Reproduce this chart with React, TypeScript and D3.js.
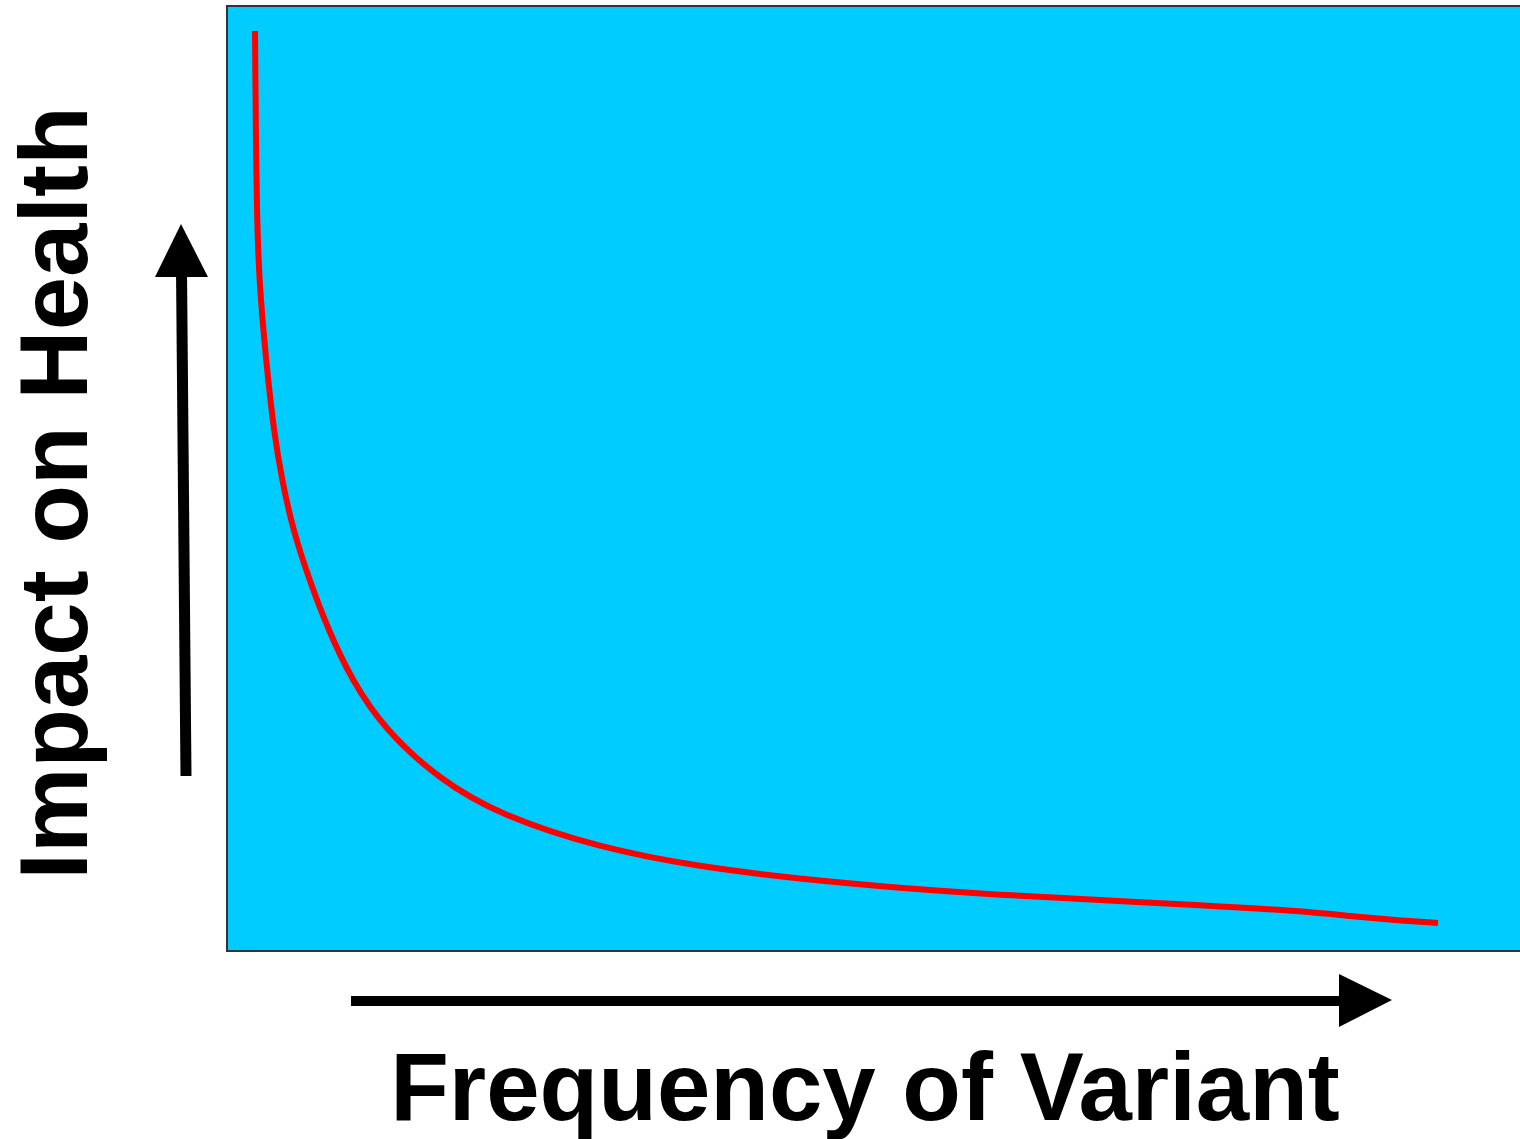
import React from 'react';
import * as d3 from 'd3';

const width = 1520;
const height = 1139;

// curve: frequency (0..100) vs impact (0..100)
const frequency = [0, 0.14, 0.48, 0.99, 1.61, 2.28, 3.21, 4.59, 6.2, 8.17, 10.99, 15.64, 20.71, 29.16, 37.62, 46.07, 54.52, 62.98, 71.43, 79.88, 88.33, 92.56, 96.79, 100];
const impact = [100, 78.04, 70.76, 63.48, 56.3, 51.2, 45.76, 40.33, 34.89, 29.46, 24.02, 18.59, 14.78, 11.2, 9.13, 7.83, 6.85, 6.09, 5.54, 5.0, 4.35, 3.8, 3.32, 3.04];

const xLabel = 'Frequency of Variant';
const yLabel = 'Impact on Health';

const font = '"Liberation Sans", Arial, sans-serif';

export default function App() {
  const x = d3.scaleLinear().domain([0, 100]).range([255, 1438]);
  const y = d3.scaleLinear().domain([0, 100]).range([951, 31]);

  const line = d3
    .line<number>()
    .x((d, i) => x(frequency[i]))
    .y(d => y(d))
    .curve(d3.curveBasis);

  return (
    <svg width={width} height={height} style={{ display: 'block', position: 'absolute', left: 0, top: 0 }}>
      <rect x={227} y={6} width={1320} height={945} fill="#00ccff" stroke="#333" strokeWidth={2} />
      <path d={line(impact) || ''} fill="none" stroke="#ff0000" strokeWidth={6} />

      {/* up arrow */}
      <line x1={186} y1={776} x2={181.5} y2={270} stroke="#000" strokeWidth={11} />
      <path d="M181,224 L155,277 L208,277 Z" fill="#000" />

      {/* right arrow */}
      <line x1={351} y1={1001} x2={1345} y2={1001} stroke="#000" strokeWidth={10} />
      <path d="M1339,974 L1339,1027 L1392,1000 Z" fill="#000" />

      <text x={865} y={1120} textAnchor="middle" fontFamily={font} fontWeight="bold" fontSize={96}>
        {xLabel}
      </text>
      <text
        transform={`translate(87, 493) rotate(-90)`}
        textAnchor="middle"
        fontFamily={font}
        fontWeight="bold"
        fontSize={96}
      >
        {yLabel}
      </text>
    </svg>
  );
}
